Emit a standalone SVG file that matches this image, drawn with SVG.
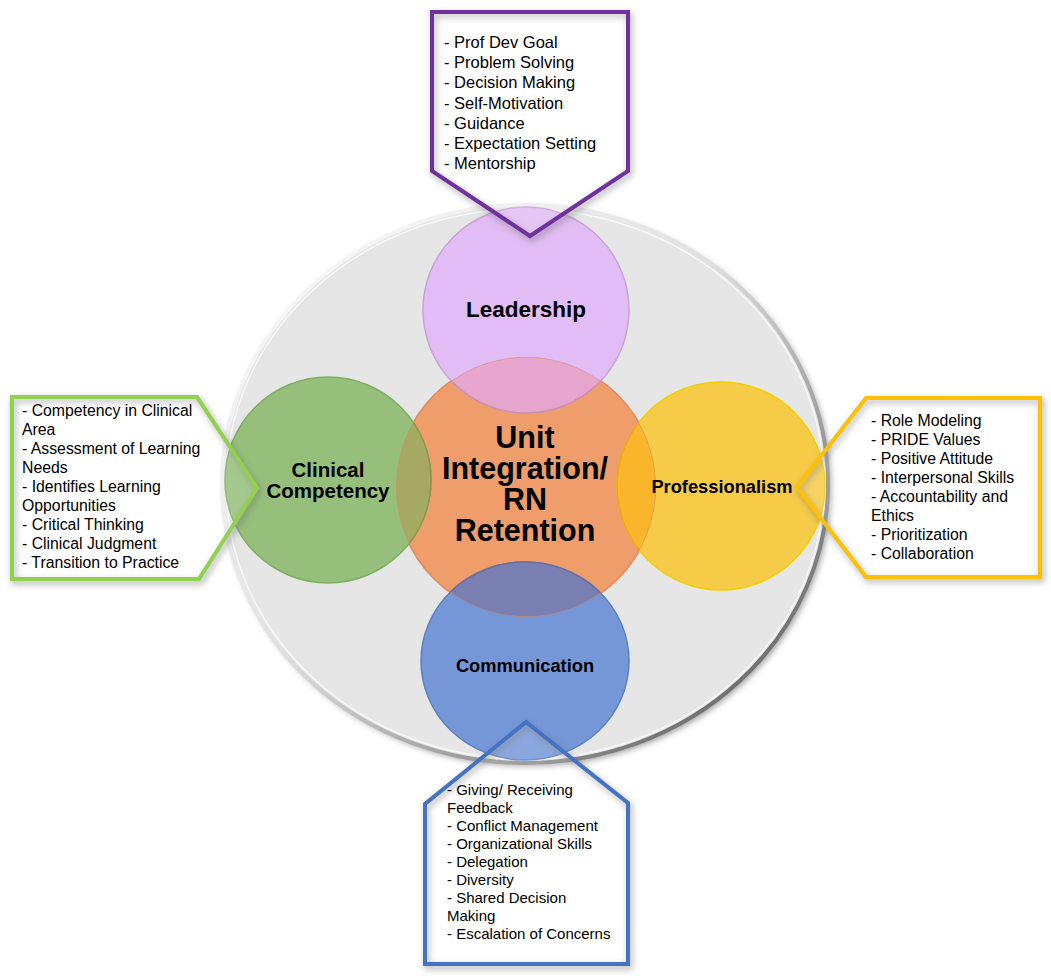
<svg xmlns="http://www.w3.org/2000/svg" width="1051" height="978" viewBox="0 0 1051 978">
<defs>
<style>
.lst{font-family:"Liberation Sans",Arial,sans-serif;fill:#000;}
.lbl{font-family:"Liberation Sans",Arial,sans-serif;font-weight:bold;fill:#000;text-anchor:middle;}
.co{stroke-width:4;stroke-linejoin:miter;fill:#fff;fill-opacity:0.15;}
.sh{fill:none;stroke:#6e6e6e;stroke-width:5;stroke-opacity:0.5;filter:url(#blur)}
</style>
<filter id="blur" x="-10%" y="-10%" width="120%" height="120%"><feGaussianBlur stdDeviation="3"/></filter>
<filter id="bigsh" x="-10%" y="-10%" width="120%" height="120%"><feGaussianBlur stdDeviation="3"/></filter>
<linearGradient id="rim" x1="0" y1="0" x2="1" y2="1">
<stop offset="0" stop-color="#ffffff"/>
<stop offset="0.45" stop-color="#e0e0e0"/>
<stop offset="1" stop-color="#4a4a4a"/>
</linearGradient>
<clipPath id="orangeClip"><circle cx="526" cy="487" r="130"/></clipPath>
</defs>

<g id="background-circle">
<ellipse cx="528" cy="487" rx="303" ry="279" fill="#5a5a5a" opacity="0.6" filter="url(#bigsh)"/>
<ellipse cx="525" cy="484" rx="303" ry="279" fill="#E6E6E6" stroke="url(#rim)" stroke-width="4"/>
<ellipse cx="525" cy="484" rx="299" ry="275" fill="none" stroke="#ffffff" stroke-width="1.5" opacity="0.7"/>
</g>

<g id="node-center">
<circle cx="526" cy="487" r="130" fill="#EE9D6B" stroke="#E28E5A" stroke-width="1.5"/>
</g>

<g id="node-leadership">
<circle cx="526" cy="310" r="103" fill="#E2BCF4" stroke="#C9A2DA" stroke-width="1.5"/>
</g>
<g id="node-clinical">
<circle cx="328" cy="480" r="103" fill="#95BF7A" stroke="#7FAE63" stroke-width="1.5"/>
</g>
<g id="node-professionalism">
<circle cx="721" cy="486" r="104" fill="#F6CB48" stroke="#F2D000" stroke-width="1.5"/>
</g>
<g id="node-communication">
<ellipse cx="525" cy="661" rx="104" ry="99" fill="#7597D8" stroke="#5C80C6" stroke-width="1.5"/>
</g>

<g id="overlaps" clip-path="url(#orangeClip)">
<circle cx="526" cy="310" r="103" fill="#E6A5CD" stroke="#C98FB5" stroke-width="1.5"/>
<circle cx="328" cy="480" r="103" fill="#A6A962" stroke="#8E9550" stroke-width="1.5"/>
<circle cx="721" cy="486" r="104" fill="#F9B62A" stroke="#E8A820" stroke-width="1.5"/>
<ellipse cx="525" cy="661" rx="104" ry="99" fill="#7A7FB1" stroke="#6A6FA0" stroke-width="1.5"/>
<circle cx="526" cy="487" r="130" fill="none" stroke="#D99070" stroke-width="1.5" opacity="0.7"/>
</g>

<g id="labels">
<text class="lbl" x="526" y="317" font-size="22.5">Leadership</text>
<text class="lbl" x="328" y="477" font-size="20.5">Clinical</text>
<text class="lbl" x="328" y="498" font-size="20.5">Competency</text>
<text class="lbl" x="722" y="493" font-size="18.3">Professionalism</text>
<text class="lbl" x="525" y="672" font-size="18.3">Communication</text>
<text class="lbl" x="525" y="448" font-size="30.5">Unit</text>
<text class="lbl" x="525" y="479" font-size="30.5">Integration/</text>
<text class="lbl" x="525" y="510" font-size="30.5">RN</text>
<text class="lbl" x="525" y="541" font-size="30.5">Retention</text>
</g>

<g id="connectors"></g>

<g id="callout-leadership">
<path class="sh" transform="translate(2,3)" d="M432,12 H628 V171 L530,236 L432,171 Z"/>
<path class="co" stroke="#7030A0" d="M432,12 H628 V171 L530,236 L432,171 Z"/>
<text class="lst" font-size="16.5">
<tspan x="444" y="48">- Prof Dev Goal</tspan>
<tspan x="444" y="68.2">- Problem Solving</tspan>
<tspan x="444" y="88.4">- Decision Making</tspan>
<tspan x="444" y="108.6">- Self-Motivation</tspan>
<tspan x="444" y="128.8">- Guidance</tspan>
<tspan x="444" y="149">- Expectation Setting</tspan>
<tspan x="444" y="169.2">- Mentorship</tspan>
</text>
</g>

<g id="callout-clinical">
<path class="sh" transform="translate(2,3)" d="M12,397 H197 L257,488 L199,579 H12 Z"/>
<path class="co" stroke="#92D050" d="M12,397 H197 L257,488 L199,579 H12 Z"/>
<text class="lst" font-size="15.8">
<tspan x="22" y="416">- Competency in Clinical</tspan>
<tspan x="22" y="435">Area</tspan>
<tspan x="22" y="454">- Assessment of Learning</tspan>
<tspan x="22" y="473">Needs</tspan>
<tspan x="22" y="492">- Identifies Learning</tspan>
<tspan x="22" y="511">Opportunities</tspan>
<tspan x="22" y="530">- Critical Thinking</tspan>
<tspan x="22" y="549">- Clinical Judgment</tspan>
<tspan x="22" y="568">- Transition to Practice</tspan>
</text>
</g>

<g id="callout-professionalism">
<path class="sh" transform="translate(2,3)" d="M797,487 L866,398 H1040 V577 H866 Z"/>
<path class="co" stroke="#FFC000" d="M797,487 L866,398 H1040 V577 H866 Z"/>
<text class="lst" font-size="15.8">
<tspan x="871" y="426">- Role Modeling</tspan>
<tspan x="871" y="445">- PRIDE Values</tspan>
<tspan x="871" y="464">- Positive Attitude</tspan>
<tspan x="871" y="483">- Interpersonal Skills</tspan>
<tspan x="871" y="502">- Accountability and</tspan>
<tspan x="871" y="521">Ethics</tspan>
<tspan x="871" y="540">- Prioritization</tspan>
<tspan x="871" y="559">- Collaboration</tspan>
</text>
</g>

<g id="callout-communication">
<path class="sh" transform="translate(2,3)" d="M526,722 L628,803 V964 H425 V804 Z"/>
<path class="co" stroke="#4472C4" d="M526,722 L628,803 V964 H425 V804 Z"/>
<text class="lst" font-size="15">
<tspan x="447" y="795">- Giving/ Receiving</tspan>
<tspan x="447" y="813">Feedback</tspan>
<tspan x="447" y="831">- Conflict Management</tspan>
<tspan x="447" y="849">- Organizational Skills</tspan>
<tspan x="447" y="867">- Delegation</tspan>
<tspan x="447" y="885">- Diversity</tspan>
<tspan x="447" y="903">- Shared Decision</tspan>
<tspan x="447" y="921">Making</tspan>
<tspan x="447" y="939">- Escalation of Concerns</tspan>
</text>
</g>
</svg>
